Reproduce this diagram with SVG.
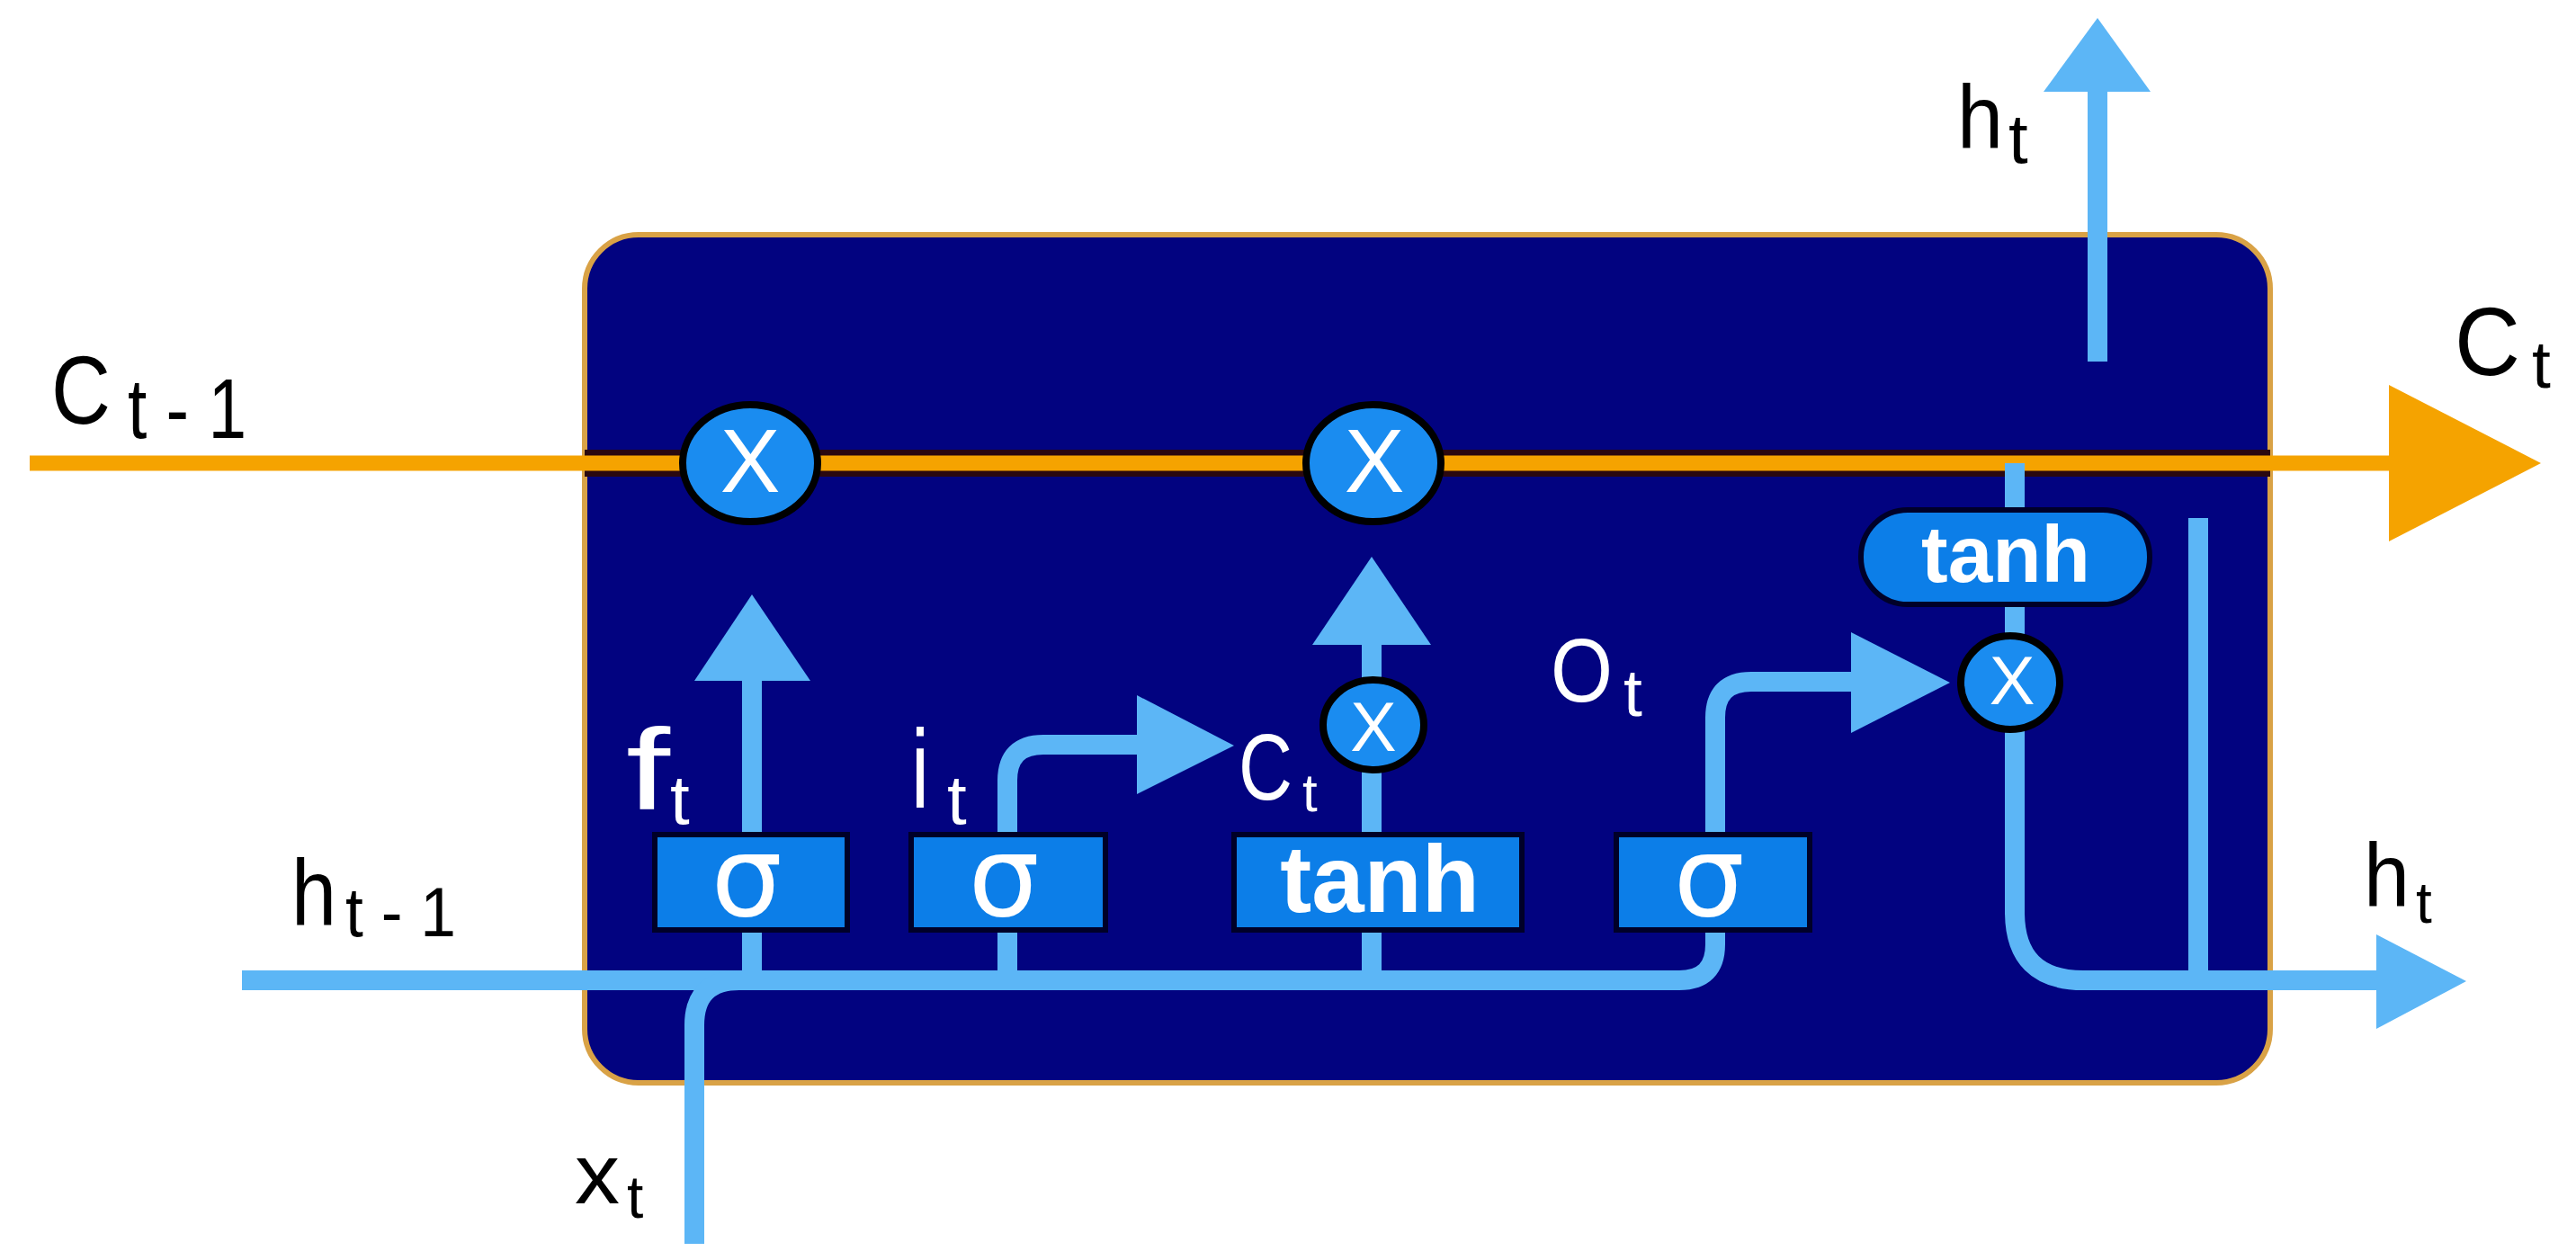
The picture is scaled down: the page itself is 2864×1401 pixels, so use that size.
<svg xmlns="http://www.w3.org/2000/svg" width="2864" height="1401" viewBox="0 0 2864 1401">
<style>
.lbl{font-family:"Liberation Sans",Arial,sans-serif;fill:#000}
.wl{font-family:"Liberation Sans",Arial,sans-serif;fill:#fff}
.gt{font-family:"Liberation Sans",Arial,sans-serif;fill:#fff;text-anchor:middle;font-weight:bold}
.sg{font-family:"DejaVu Sans","Liberation Sans",sans-serif;fill:#fff;text-anchor:middle}
.bl{fill:none;stroke:#5cb6f6;stroke-width:22}
.ah{fill:#5cb6f6}
.gate{fill:#0c7ee8;stroke:#000028;stroke-width:6}
.op{fill:#1a8cf0;stroke:#000;stroke-width:8}
</style>
<rect width="2864" height="1401" fill="#fff"/>
<g id="cell">
<rect x="650" y="261" width="1874" height="943" rx="60" fill="#020380" stroke="#d9a246" stroke-width="6"/>
</g>
<g id="connectors">
<line x1="650" y1="515" x2="2524" y2="515" stroke="#2a0810" stroke-width="30"/>
<line x1="33" y1="515" x2="2660" y2="515" stroke="#f5a300" stroke-width="17"/>
<polygon points="2656,428 2825,515 2656,602" fill="#f5a300"/>
<path class="bl" d="M269,1090 H1867 Q1907,1090 1907,1050 V798 Q1907,758 1947,758 H2062"/>
<polygon class="ah" points="2058,703 2168,759 2058,815"/>
<path class="bl" d="M772,1383 V1140 Q772,1090 822,1090"/>
<line class="bl" x1="836" y1="1090" x2="836" y2="755"/>
<polygon class="ah" points="772,757 836,661 901,757"/>
<path class="bl" d="M1120,1090 V868 Q1120,828 1160,828 H1268"/>
<polygon class="ah" points="1264,773 1372,829 1264,883"/>
<line class="bl" x1="1525" y1="1090" x2="1525" y2="715"/>
<polygon class="ah" points="1459,717 1525,619 1591,717"/>
<line class="bl" x1="2240" y1="515" x2="2240" y2="710"/>
<path class="bl" d="M2240,810 V1014 Q2240,1090 2316,1090 H2646"/>
<polygon class="ah" points="2642,1039 2742,1091 2642,1144"/>
<line class="bl" x1="2444" y1="576" x2="2444" y2="1090"/>
<line class="bl" x1="2332" y1="402" x2="2332" y2="98"/>
<polygon class="ah" points="2272,102 2332,20 2391,102"/>
</g>
<g id="mul-forget"><ellipse class="op" cx="834" cy="515" rx="75" ry="65"/><text class="wl" x="834" y="547" font-size="100" text-anchor="middle">X</text></g>
<g id="mul-input"><ellipse class="op" cx="1527" cy="515" rx="75" ry="65"/><text class="wl" x="1528" y="547" font-size="100" text-anchor="middle">X</text></g>
<g id="mul-candidate"><ellipse class="op" cx="1527" cy="806" rx="56" ry="50"/><text class="wl" x="1527" y="835" font-size="77" text-anchor="middle">X</text></g>
<g id="mul-output"><ellipse class="op" cx="2235" cy="759" rx="55" ry="52"/><text class="wl" x="2237" y="783" font-size="76" text-anchor="middle">X</text></g>
<g id="tanh-cell"><rect class="gate" x="2069" y="567" width="321" height="105" rx="52"/><text class="gt" x="2230" y="647" font-size="89">tanh</text></g>
<g id="gate-forget"><rect class="gate" x="728" y="928" width="214" height="106"/><text class="sg" x="830" y="1018" font-size="125">σ</text></g>
<g id="gate-input"><rect class="gate" x="1013" y="928" width="216" height="106"/><text class="sg" x="1116" y="1018" font-size="125">σ</text></g>
<g id="gate-candidate"><rect class="gate" x="1372" y="928" width="320" height="106"/><text class="gt" x="1534" y="1014" font-size="105">tanh</text></g>
<g id="gate-output"><rect class="gate" x="1797" y="928" width="215" height="106"/><text class="sg" x="1900" y="1018" font-size="125">σ</text></g>
<g id="labels">
<text class="lbl" x="57" y="471" font-size="108" textLength="66" lengthAdjust="spacingAndGlyphs">C</text>
<text class="lbl" x="142" y="487" font-size="95" textLength="132" lengthAdjust="spacingAndGlyphs">t - 1</text>
<text class="lbl" x="2176" y="165" font-size="100" textLength="51" lengthAdjust="spacingAndGlyphs">h</text>
<text class="lbl" x="2233" y="181" font-size="78">t</text>
<text class="lbl" x="2729" y="417" font-size="108" textLength="73" lengthAdjust="spacingAndGlyphs">C</text>
<text class="lbl" x="2815" y="431" font-size="75">t</text>
<text class="lbl" x="324" y="1028" font-size="104" textLength="50" lengthAdjust="spacingAndGlyphs">h</text>
<text class="lbl" x="384" y="1041" font-size="77" textLength="123" lengthAdjust="spacingAndGlyphs">t - 1</text>
<text class="lbl" x="639" y="1338" font-size="95" textLength="50" lengthAdjust="spacingAndGlyphs">x</text>
<text class="lbl" x="697" y="1354" font-size="66">t</text>
<text class="lbl" x="2628" y="1008" font-size="101" textLength="51" lengthAdjust="spacingAndGlyphs">h</text>
<text class="lbl" x="2686" y="1026" font-size="64">t</text>
<text class="wl" x="696" y="900" font-size="128" textLength="49" lengthAdjust="spacingAndGlyphs">f</text>
<text class="wl" x="745" y="916" font-size="78">t</text>
<text class="wl" x="1013" y="898" font-size="124" textLength="20" lengthAdjust="spacingAndGlyphs">i</text>
<text class="wl" x="1053" y="916" font-size="78">t</text>
<text class="wl" x="1377" y="889" font-size="103" textLength="60" lengthAdjust="spacingAndGlyphs">C</text>
<text class="wl" x="1448" y="902" font-size="60">t</text>
<text class="wl" x="1724" y="780" font-size="101" textLength="69" lengthAdjust="spacingAndGlyphs">O</text>
<text class="wl" x="1805" y="796" font-size="75">t</text>
</g>
</svg>
